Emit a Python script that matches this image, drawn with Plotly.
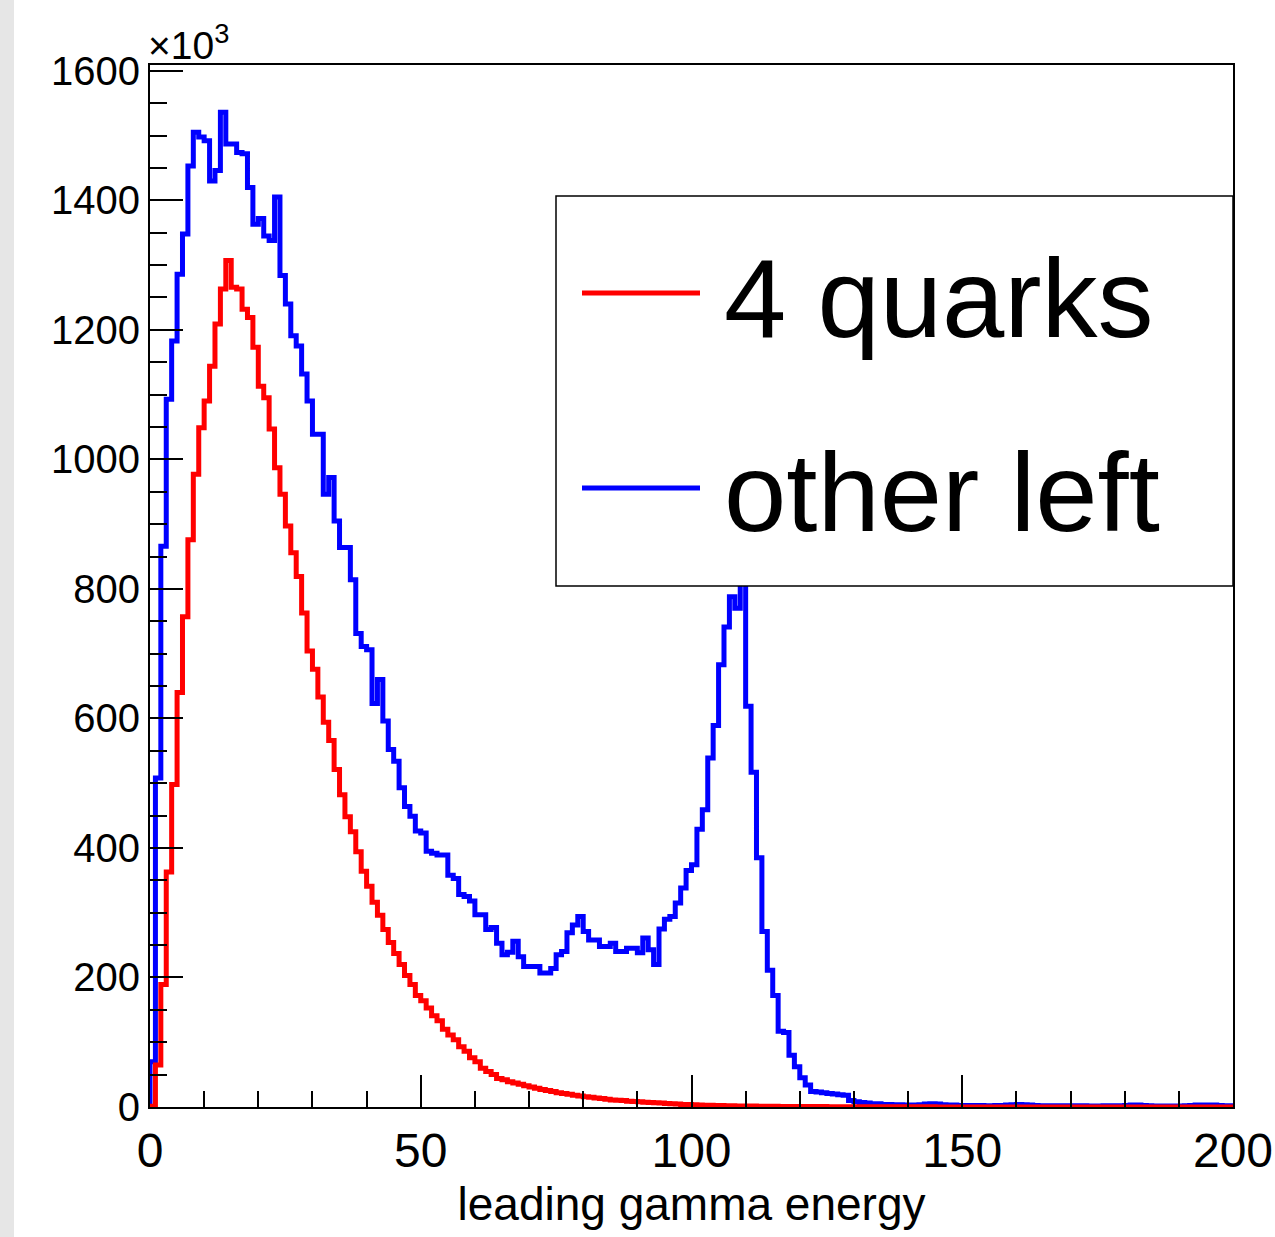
import plotly.graph_objects as go

# ---- histogram definition (leading gamma energy, 200 bins of width 1) ----
BIN_LOW = 0
BIN_WIDTH = 1
N_BINS = 200

# bin contents in units of 10^3 entries
four_quarks = [
    1, 65, 189, 363, 498, 640, 757, 876, 977, 1049,
    1090, 1144, 1209, 1263, 1307, 1266, 1263, 1232, 1219, 1173,
    1113, 1095, 1047, 987, 946, 897, 856, 819, 763, 704,
    676, 633, 594, 566, 521, 482, 448, 425, 394, 364,
    341, 316, 296, 274, 254, 237, 220, 203, 189, 172,
    164, 153, 141, 133, 120, 111, 104, 93, 86, 76,
    70, 60, 55, 50, 44, 42, 39, 37, 35, 33,
    31, 29, 27, 25.5, 24, 22, 21, 19.5, 18, 17,
    16, 15, 14, 13, 12, 11, 10.5, 10, 9, 8.5,
    8, 7.5, 7, 6.5, 6, 5.5, 5, 4.5, 4, 3.7,
    3.3, 3.0, 2.8, 2.6, 2.4, 2.2, 2.0, 1.9, 1.7, 1.6,
    1.5, 1.4, 1.3, 1.2, 1.1, 1.0, 0.9, 0.9, 0.8, 0.8,
    0.7, 0.7, 0.6, 0.6, 0.6, 0.5, 0.5, 0.5, 0.4, 0.4,
    0.4, 0.4, 0.3, 0.3, 0.3, 0.3, 0.3, 0.2, 0.2, 0.2,
    0.2, 0.2, 0.2, 0.2, 0.2, 0.1, 0.1, 0.1, 0.1, 0.1,
    0.1, 0.1, 0.1, 0.1, 0.1, 0.1, 0.1, 0.1, 0.1, 0.1,
    0.1, 0.1, 0.1, 0.05, 0.05, 0.05, 0.05, 0.05, 0.05, 0.05,
    0.05, 0.05, 0.05, 0.05, 0.05, 0.05, 0.05, 0.05, 0.05, 0.05,
    0.05, 0.05, 0.05, 0.05, 0.05, 0.05, 0.05, 0.05, 0.05, 0.05,
    0.05, 0.05, 0.05, 0.05, 0.05, 0.05, 0.05, 0.05, 0.05, 0.05,
]

other_left = [
    70, 508, 866, 1093, 1183, 1286, 1348, 1453, 1505, 1498,
    1492, 1430, 1446, 1536, 1487, 1487, 1474, 1472, 1420, 1363,
    1372, 1345, 1338, 1405, 1284, 1240, 1191, 1175, 1132, 1090,
    1039, 1039, 946, 972, 905, 864, 864, 814, 731, 711,
    706, 623, 660, 596, 552, 534, 493, 464, 449, 426,
    423, 395, 392, 389, 389, 358, 353, 328, 325, 318,
    297, 297, 274, 277, 253, 235, 239, 256, 232, 217,
    217, 217, 207, 207, 214, 235, 240, 269, 281, 294,
    271, 258, 258, 248, 248, 253, 240, 240, 245, 245,
    238, 261, 243, 220, 275, 290, 294, 315, 338, 365,
    374, 429, 459, 539, 589, 683, 741, 788, 770, 835,
    619, 517, 385, 271, 211, 172, 117, 115, 80, 62,
    45, 34, 24, 23, 22, 21, 20, 19, 18, 10,
    8, 7, 6, 5, 5, 4, 4, 3.5, 3.5, 3,
    3, 3, 3.5, 4.5, 5, 4.5, 3.5, 3, 3, 2.5,
    2.5, 2.5, 2.5, 2.5, 2, 2, 2.5, 2.5, 3, 3.5,
    4, 3.5, 3, 2.5, 2, 2, 2, 2, 2, 2,
    2, 2, 2, 1.5, 1.5, 1.5, 2, 2, 2, 2,
    2.5, 3, 3, 2.5, 2, 1.5, 1.5, 1.5, 1.5, 1.5,
    1.5, 2, 2.5, 3, 3, 3, 3, 2.5, 2, 2,
]

series_names = ["4 quarks", "other left"]
series_colors = ["#ff0000", "#0000ff"]
x_title = "leading gamma energy"
y_multiplier_label = "×10<sup>3</sup>"

FONT = "Liberation Sans, Arial, Helvetica, sans-serif"


def step_xy(values):
    edges = [BIN_LOW + BIN_WIDTH * i for i in range(N_BINS + 1)]
    xs = [edges[0]] + edges[:N_BINS] + [edges[N_BINS]]
    ys = [0] + list(values) + [values[-1]]
    return xs, ys


fig = go.Figure()
# blue drawn first so red lies on top (as in the reference)
for vals, name, col in [(other_left, series_names[1], series_colors[1]),
                        (four_quarks, series_names[0], series_colors[0])]:
    xs, ys = step_xy(vals)
    fig.add_trace(go.Scatter(x=xs, y=ys, mode="lines", name=name,
                             line=dict(color=col, width=5, shape="hv"),
                             showlegend=False, hoverinfo="skip"))

# plot-area geometry in pixels (for placing the legend)
L, R, T, B = 150, 1233, 65, 1107
W, H = R - L, B - T


def px(x):
    return (x - L) / W


def py(y):
    return (B - y) / H


shapes = [
    # light grey strip at the very left of the page
    dict(type="rect", xref="paper", yref="paper",
         x0=px(0), x1=px(14), y0=py(1237), y1=py(0),
         fillcolor="#e6e6e6", line=dict(width=0), layer="below"),
    # legend box
    dict(type="rect", xref="paper", yref="paper",
         x0=px(556), x1=px(1233), y0=py(586), y1=py(196),
         fillcolor="white", line=dict(color="black", width=1.5), layer="above"),
    dict(type="line", xref="paper", yref="paper",
         x0=px(582), x1=px(700), y0=py(293), y1=py(293),
         line=dict(color=series_colors[0], width=5), layer="above"),
    dict(type="line", xref="paper", yref="paper",
         x0=px(582), x1=px(700), y0=py(488), y1=py(488),
         line=dict(color=series_colors[1], width=5), layer="above"),
]

annotations = [
    dict(text=series_names[0], xref="paper", yref="paper", x=px(722), y=py(298),
         xanchor="left", yanchor="middle", showarrow=False,
         font=dict(family=FONT, size=112, color="black")),
    dict(text=series_names[1], xref="paper", yref="paper", x=px(722), y=py(493),
         xanchor="left", yanchor="middle", showarrow=False,
         font=dict(family=FONT, size=112, color="black")),
    dict(text=y_multiplier_label, xref="paper", yref="paper", x=0, y=1,
         xanchor="left", yanchor="bottom", showarrow=False, yshift=-4, xshift=-4,
         font=dict(family=FONT, size=39, color="black")),
]

fig.update_layout(
    width=1275, height=1237, autosize=False,
    margin=dict(l=L, r=1275 - R, t=T, b=1237 - B),
    paper_bgcolor="white", plot_bgcolor="white",
    font=dict(family=FONT, color="black"),
    shapes=shapes, annotations=annotations,
    xaxis=dict(
        range=[0, 200], tick0=0, dtick=50, ticks="inside", ticklen=32,
        tickwidth=2, tickcolor="black", showline=True, linecolor="black",
        linewidth=2, mirror=True, showgrid=False, zeroline=False,
        tickfont=dict(family=FONT, size=48, color="black"),
        minor=dict(dtick=10, ticks="inside", ticklen=16, tickwidth=2,
                   tickcolor="black", showgrid=False),
        title=dict(text=x_title, font=dict(family=FONT, size=46, color="black"),
                   standoff=12),
        automargin=False,
    ),
    yaxis=dict(
        range=[0, 1609], tick0=0, dtick=200, ticks="inside", ticklen=33,
        tickwidth=2, tickcolor="black", showline=True, linecolor="black",
        linewidth=2, mirror=True, showgrid=False, zeroline=False,
        tickfont=dict(family=FONT, size=40, color="black"),
        minor=dict(dtick=50, ticks="inside", ticklen=17, tickwidth=2,
                   tickcolor="black", showgrid=False),
        automargin=False,
    ),
)

# remove the browser's default 8px page margin so the figure sits at (0, 0)
fig.write_html("out.html",
               config={"displayModeBar": False},
               post_script="document.body.style.margin='0px';"
                           "document.body.style.overflow='hidden';")
